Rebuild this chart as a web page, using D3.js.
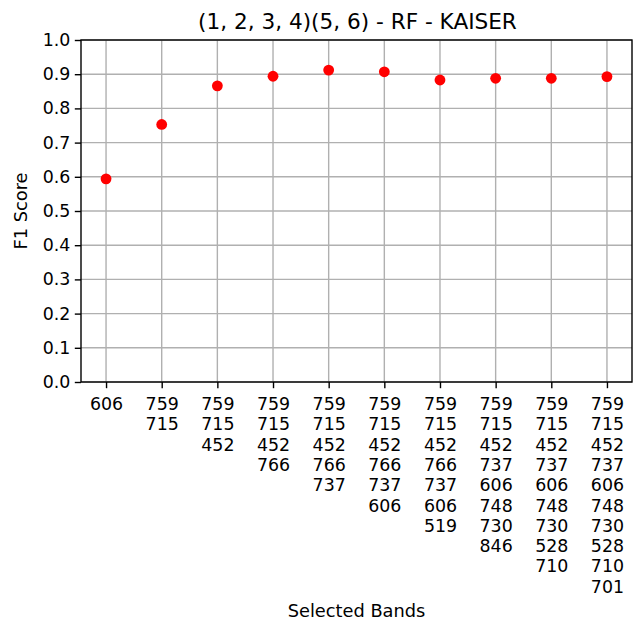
<!DOCTYPE html>
<html>
<head>
<meta charset="utf-8">
<script src="https://cdn.jsdelivr.net/npm/d3@7"></script>
<style>
  body { margin: 0; background: #fff; }
  svg text { font-family: "DejaVu Sans", sans-serif; fill: #000; }
</style>
</head>
<body>
<svg id="chart" width="636" height="623"></svg>
<script>
const bandSets = [
    ['606'],
    ['759', '715'],
    ['759', '715', '452'],
    ['759', '715', '452', '766'],
    ['759', '715', '452', '766', '737'],
    ['759', '715', '452', '766', '737', '606'],
    ['759', '715', '452', '766', '737', '606', '519'],
    ['759', '715', '452', '737', '606', '748', '730', '846'],
    ['759', '715', '452', '737', '606', '748', '730', '528', '710'],
    ['759', '715', '452', '737', '606', '748', '730', '528', '710', '701']
];
const f1Scores = [0.594, 0.753, 0.866, 0.894, 0.912, 0.907, 0.883, 0.888, 0.888, 0.893];
const yTicks = [0, 0.1, 0.2, 0.3, 0.4, 0.5, 0.6, 0.7, 0.8, 0.9, 1.0];

const margin = { left: 81, right: 4, top: 40, bottom: 241 };
const width = 636, height = 623;
const fontSize = '17.4px';
const svg = d3.select('#chart');

const x = d3.scaleLinear()
    .domain([-0.45, bandSets.length - 1 + 0.45])
    .range([margin.left, width - margin.right]);
const y = d3.scaleLinear()
    .domain([0, 1])
    .range([height - margin.bottom, margin.top]);

// grid
const grid = svg.append('g');
grid.selectAll('.vgrid')
    .data(d3.range(bandSets.length))
    .enter()
    .append('line')
    .attr('x1', d => x(d)).attr('x2', d => x(d))
    .attr('y1', y(0)).attr('y2', y(1))
    .attr('stroke', '#b0b0b0').attr('stroke-width', 1.4);
grid.selectAll('.hgrid')
    .data(yTicks)
    .enter()
    .append('line')
    .attr('x1', x.range()[0]).attr('x2', x.range()[1])
    .attr('y1', d => y(d)).attr('y2', d => y(d))
    .attr('stroke', '#b0b0b0').attr('stroke-width', 1.4);

// points
svg.append('g').selectAll('circle')
    .data(f1Scores)
    .enter()
    .append('circle')
    .attr('cx', (d, i) => x(i))
    .attr('cy', d => y(d))
    .attr('r', 5.4)
    .attr('fill', '#ff0000');

// y axis
const yAxis = svg.append('g')
    .attr('transform', `translate(${margin.left},0)`)
    .call(d3.axisLeft(y).tickValues(yTicks).tickFormat(d3.format('.1f')).tickSize(6.2).tickPadding(4.5));
yAxis.select('.domain').remove();
yAxis.selectAll('text').attr('font-size', fontSize).attr('font-family', '"DejaVu Sans", sans-serif');
yAxis.selectAll('line').attr('stroke', '#000').attr('stroke-width', 1.4);

// x axis (multi-line labels)
const xAxis = svg.append('g')
    .attr('transform', `translate(0,${y(0)})`)
    .call(d3.axisBottom(x).tickValues(d3.range(bandSets.length)).tickFormat('').tickSize(6.2));
xAxis.select('.domain').remove();
xAxis.selectAll('line').attr('stroke', '#000').attr('stroke-width', 1.4);
xAxis.selectAll('.tick').each(function (d) {
    const t = d3.select(this).append('text')
        .attr('text-anchor', 'middle')
        .attr('font-size', fontSize)
        .attr('y', 0);
    bandSets[d].forEach((b, k) => {
        t.append('tspan').attr('x', 0).attr('y', 28 + k * 20.3).text(b);
    });
});

// frame
svg.append('rect')
    .attr('x', x.range()[0]).attr('y', y(1))
    .attr('width', x.range()[1] - x.range()[0])
    .attr('height', y(0) - y(1))
    .attr('fill', 'none').attr('stroke', '#000').attr('stroke-width', 1.4);

// labels
svg.append('text')
    .attr('x', (x.range()[0] + x.range()[1]) / 2 + 1).attr('y', 29)
    .attr('text-anchor', 'middle').attr('font-size', '21.6px')
    .text('(1, 2, 3, 4)(5, 6) - RF - KAISER');
svg.append('text')
    .attr('x', (x.range()[0] + x.range()[1]) / 2).attr('y', 617)
    .attr('text-anchor', 'middle').attr('font-size', '17.8px')
    .text('Selected Bands');
svg.append('text')
    .attr('transform', `translate(27,${(y(0) + y(1)) / 2}) rotate(-90)`)
    .attr('text-anchor', 'middle').attr('font-size', '17.8px')
    .text('F1 Score');
</script>
</body>
</html>
